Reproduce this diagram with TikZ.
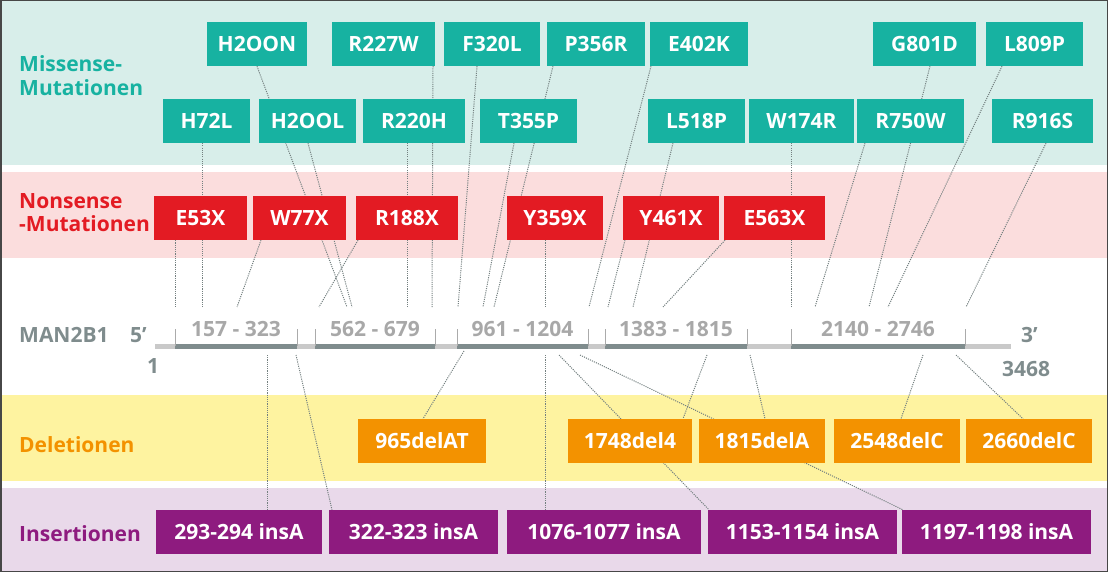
\documentclass[tikz,border=0pt]{standalone}
\usepackage{fontspec}
\setmainfont{Open Sans}
\usetikzlibrary{positioning}

\definecolor{missteal}{HTML}{17B2A1}
\definecolor{bandteal}{HTML}{D8EEEA}
\definecolor{nonred}{HTML}{E31B23}
\definecolor{bandpink}{HTML}{FBDDDD}
\definecolor{delorange}{HTML}{F39200}
\definecolor{bandyellow}{HTML}{FEF3A0}
\definecolor{inspurple}{HTML}{8E1B7F}
\definecolor{bandpurple}{HTML}{E9D9EA}
\definecolor{genegray}{HTML}{7F8C8D}
\definecolor{exontext}{HTML}{A8A8A8}
\definecolor{backbone}{HTML}{C9C9C9}
\definecolor{linkgray}{HTML}{748080}

\pgfdeclarelayer{bands}
\pgfdeclarelayer{links}
\pgfsetlayers{bands,links,main}

\begin{document}
\begin{tikzpicture}%
        [x=1pt, y=-1pt,
        font=\fontsize{21}{24}\selectfont\bfseries,
        box/.style={inner sep=0pt, minimum height=44pt, text height=15pt, text depth=0pt, text=white},
        missense/.style={box, fill=missteal},
        nonsense/.style={box, fill=nonred},
        deletion/.style={box, fill=delorange},
        insertion/.style={box, fill=inspurple},
        rowlabel/.style={anchor=base west, inner sep=0pt},
        exonlabel/.style={anchor=base, inner sep=0pt, text=exontext},
        exon/.style={line width=4.5pt, color=genegray},
        exontick/.style={line width=1pt, color=backbone!85!black},
        link/.style={line width=1pt, color=linkgray, dash pattern=on 1.1pt off 1.1pt}]
\useasboundingbox (0,0) rectangle (1108,572);
%
%% Coloured bands
%%
\begin{pgfonlayer}{bands}
\fill[bandteal] (0,0) rectangle (1108,165);
\fill[bandpink] (0,172) rectangle (1108,258);
\fill[bandyellow] (0,395) rectangle (1108,481);
\fill[bandpurple] (0,488) rectangle (1108,572);
\end{pgfonlayer}
%
%% Row labels
%%
\node[rowlabel, text=missteal] (lmis1) at (19,72) {Missense-};
\node[rowlabel, text=missteal] (lmis2) at (19,96) {Mutationen};
\node[rowlabel, text=nonred] (lnon1) at (19,208) {Nonsense};
\node[rowlabel, text=nonred] (lnon2) at (19,232) {-Mutationen};
\node[rowlabel, text=genegray] (lgene) at (19,342) {MAN2B1};
\node[rowlabel, text=delorange] (ldel) at (19,452) {Deletionen};
\node[rowlabel, text=inspurple] (lins) at (19,541) {Insertionen};
%
%% The gene
%%
\draw[line width=4.5pt, color=backbone] (155,346.5) -- (1011,346.5);
\foreach \a/\b/\t/\n in {175/297/{157 - 323}/x1, 315/435/{562 - 679}/x2,
        457/588/{961 - 1204}/x3, 605/747/{1383 - 1815}/x4, 791/965/{2140 - 2746}/x5}
{
  \draw[exon] (\a,346.5) -- (\b,346.5);
  \draw[exontick] (\a,329) -- (\a,346);
  \draw[exontick] (\b,329) -- (\b,346);
  \node[exonlabel] (\n) at ({(\a+\b)/2},336) {\t};
}
\node[rowlabel, text=genegray] (l5) at (130,342) {5’};
\node[rowlabel, text=genegray] (l1) at (147,373) {1};
\node[rowlabel, text=genegray] (l3) at (1021,342) {3’};
\node[rowlabel, text=genegray] (l3468) at (1002,376) {3468};
%
%% Missense mutations
%%
\node[missense, minimum width=100] (h2oon) at (257,44) {H2OON};
\node[missense, minimum width=103] (r227w) at (383.5,44) {R227W};
\node[missense, minimum width=96] (f320l) at (492,44) {F320L};
\node[missense, minimum width=98] (p356r) at (596,44) {P356R};
\node[missense, minimum width=98] (e402k) at (699,44) {E402K};
\node[missense, minimum width=103] (g801d) at (924.5,44) {G801D};
\node[missense, minimum width=97] (l809p) at (1034.5,44) {L809P};

\node[missense, minimum width=87] (h72l) at (206.5,121) {H72L};
\node[missense, minimum width=97] (h2ool) at (307.5,121) {H2OOL};
\node[missense, minimum width=102] (r220h) at (414,121) {R220H};
\node[missense, minimum width=97] (t355p) at (528.5,121) {T355P};
\node[missense, minimum width=97] (l518p) at (696.5,121) {L518P};
\node[missense, minimum width=105] (w174r) at (801.5,121) {W174R};
\node[missense, minimum width=107] (r750w) at (910.5,121) {R750W};
\node[missense, minimum width=101] (r916s) at (1042.5,121) {R916S};
%
%% Nonsense mutations
%%
\node[nonsense, minimum width=93] (e53x) at (200.5,218) {E53X};
\node[nonsense, minimum width=93] (w77x) at (299.5,218) {W77X};
\node[nonsense, minimum width=102] (r188x) at (407,218) {R188X};
\node[nonsense, minimum width=96] (y359x) at (555,218) {Y359X};
\node[nonsense, minimum width=96] (y461x) at (671,218) {Y461X};
\node[nonsense, minimum width=101] (e563x) at (774.5,218) {E563X};
%
%% Deletions
%%
\node[deletion, minimum width=128] (d965) at (422,441) {965delAT};
\node[deletion, minimum width=124] (d1748) at (630,441) {1748del4};
\node[deletion, minimum width=126] (d1815) at (762,441) {1815delA};
\node[deletion, minimum width=126] (d2548) at (897,441) {2548delC};
\node[deletion, minimum width=126] (d2660) at (1029,441) {2660delC};
%
%% Insertions
%%
\node[insertion, minimum width=166] (i293) at (239,532) {293-294 insA};
\node[insertion, minimum width=169] (i322) at (413.5,532) {322-323 insA};
\node[insertion, minimum width=194] (i1076) at (604,532) {1076-1077 insA};
\node[insertion, minimum width=189] (i1153) at (802.5,532) {1153-1154 insA};
\node[insertion, minimum width=189] (i1197) at (996.5,532) {1197-1198 insA};
%
%% Sites on the gene
%%
\coordinate (s-e53x) at (175,307);
\coordinate (s-h72l) at (202,307);
\coordinate (s-w77x) at (237,307);
\coordinate (s-r188x) at (319,307);
\coordinate (s-h2oon) at (347,307);
\coordinate (s-h2ool) at (352,307);
\coordinate (s-r220h) at (407,307);
\coordinate (s-r227w) at (432,307);
\coordinate (s-f320l) at (458,307);
\coordinate (s-t355p) at (483,307);
\coordinate (s-p356r) at (494,307);
\coordinate (s-y359x) at (545,307);
\coordinate (s-e402k) at (589,307);
\coordinate (s-y461x) at (608,307);
\coordinate (s-l518p) at (633,307);
\coordinate (s-e563x) at (663,307);
\coordinate (s-w174r) at (791,307);
\coordinate (s-r750w) at (815,307);
\coordinate (s-g801d) at (869,307);
\coordinate (s-l809p) at (888,307);
\coordinate (s-r916s) at (966,307);

\coordinate (s-i293) at (267,355);
\coordinate (s-i322) at (296,355);
\coordinate (s-d965) at (464,351);
\coordinate (s-i1076) at (545,355);
\coordinate (s-i1153) at (559,355);
\coordinate (s-i1197) at (580,355);
\coordinate (s-d1748) at (707,355);
\coordinate (s-d1815) at (750,355);
\coordinate (s-d2548) at (923,355);
\coordinate (s-d2660) at (956,355);
%
%% Dotted links, behind the boxes
%%
\begin{pgfonlayer}{links}
\draw[link] (e53x.south -| 175,0) -- (s-e53x);
\draw[link] (h72l.south -| 202,0) -- (s-h72l);
\draw[link] (w77x.south -| 261,0) -- (s-w77x);
\draw[link] (r188x.south -| 358,0) -- (s-r188x);
\draw[link] (h2oon.south -| 257,0) -- (s-h2oon);
\draw[link] (h2ool.south -| 308,0) -- (s-h2ool);
\draw[link] (r220h.south -| 407,0) -- (s-r220h);
\draw[link] (r227w.south -| 433,0) -- (s-r227w);
\draw[link] (f320l.south -| 477,0) -- (s-f320l);
\draw[link] (t355p.south -| 514,0) -- (s-t355p);
\draw[link] (p356r.south -| 553,0) -- (s-p356r);
\draw[link] (y359x.south -| 545,0) -- (s-y359x);
\draw[link] (e402k.south -| 651,0) -- (s-e402k);
\draw[link] (y461x.south -| 625,0) -- (s-y461x);
\draw[link] (l518p.south -| 673,0) -- (s-l518p);
\draw[link] (e563x.south -| 725,0) -- (s-e563x);
\draw[link] (w174r.south -| 791,0) -- (s-w174r);
\draw[link] (r750w.south -| 865,0) -- (s-r750w);
\draw[link] (g801d.south -| 930,0) -- (s-g801d);
\draw[link] (l809p.south -| 1002,0) -- (s-l809p);
\draw[link] (r916s.south -| 1046,0) -- (s-r916s);

\draw[link] (s-i293) -- (i293.north -| 267,0);
\draw[link] (s-i322) -- (i322.north -| 332,0);
\draw[link] (s-d965) -- (d965.north -| 423,0);
\draw[link] (s-i1076) -- (i1076.north -| 545,0);
\draw[link] (s-i1153) -- (i1153.north -| 709,0);
\draw[link] (s-i1197) -- (i1197.north -| 903,0);
\draw[link] (s-d1748) -- (d1748.north -| 683,0);
\draw[link] (s-d1815) -- (d1815.north -| 765,0);
\draw[link] (s-d2548) -- (d2548.north -| 901,0);
\draw[link] (s-d2660) -- (d2660.north -| 1023,0);
\end{pgfonlayer}
%
%% Frame
%%
\draw[line width=1.5pt, color=black!72] (0.75,0.75) rectangle (1107.25,571.25);
\end{tikzpicture}
\end{document}
